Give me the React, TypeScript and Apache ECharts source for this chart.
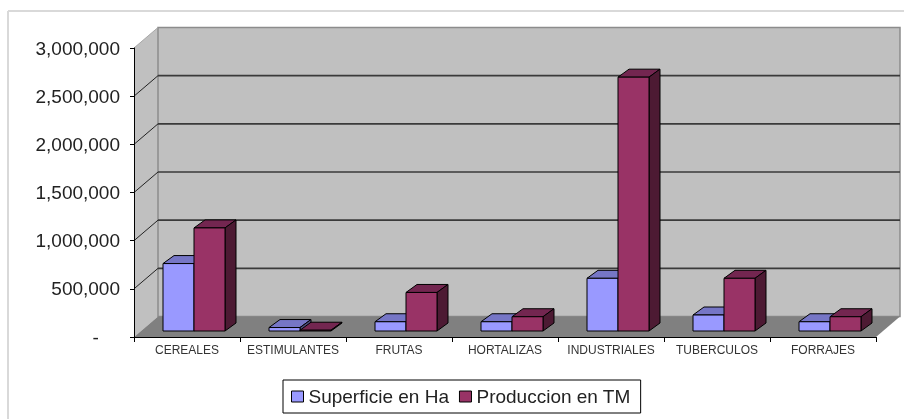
import React, { useEffect, useRef } from "react";
import * as echarts from "echarts";

const categories = ["CEREALES", "ESTIMULANTES", "FRUTAS", "HORTALIZAS", "INDUSTRIALES", "TUBERCULOS", "FORRAJES"];
const superficie = [700000, 36000, 96000, 96000, 547000, 166000, 96000];
const produccion = [1070000, 8000, 400000, 148000, 2635000, 547000, 148000];
const tickValues = [0, 500000, 1000000, 1500000, 2000000, 2500000, 3000000];
const seriesNames = ["Superficie en Ha", "Produccion en TM"];

const FONT = "'Liberation Sans', Arial, sans-serif";
const WALL_DX = 24;
const WALL_DY = -20.5;
const BAR_W = 31;
const BAR_DX = 11;
const BAR_DY = -8;
const SHIFT_X = 7;
const SHIFT_Y = -6;

const palette = [
  { front: "#9999ff", top: "#7676c6", side: "#4d4d80" },
  { front: "#993366", top: "#732650", side: "#4d1a33" },
];

function wallRender(params: any, api: any) {
  const cs = params.coordSys;
  const x0 = cs.x;
  const x1 = cs.x + cs.width;
  const yBottom = api.coord([0, tickValues[0]])[1];
  const yTop = api.coord([0, tickValues[tickValues.length - 1]])[1];
  const children: any[] = [
    {
      type: "polygon",
      shape: { points: [[x0, yTop], [x0 + WALL_DX, yTop + WALL_DY], [x0 + WALL_DX, yBottom + WALL_DY], [x0, yBottom]] },
      style: { fill: "#c0c0c0", stroke: "none" },
    },
    {
      type: "polygon",
      shape: {
        points: [[x0 + WALL_DX, yTop + WALL_DY], [x1 + WALL_DX, yTop + WALL_DY], [x1 + WALL_DX, yBottom + WALL_DY], [x0 + WALL_DX, yBottom + WALL_DY]],
      },
      style: { fill: "#c0c0c0", stroke: "#8c8c8c", lineWidth: 1.5 },
    },
    {
      type: "polygon",
      shape: { points: [[x0, yBottom], [x0 + WALL_DX, yBottom + WALL_DY], [x1 + WALL_DX, yBottom + WALL_DY], [x1, yBottom]] },
      style: { fill: "#808080", stroke: "none" },
    },
    {
      type: "line",
      shape: { x1: x0, y1: yTop, x2: x0 + WALL_DX, y2: yTop + WALL_DY },
      style: { stroke: "#a8a8a8", lineWidth: 1 },
    },
  ];
  tickValues.slice(1, -1).forEach((v) => {
    const y = api.coord([0, v])[1];
    children.push({
      type: "line",
      shape: { x1: x0, y1: y, x2: x0 + WALL_DX, y2: y + WALL_DY },
      style: { stroke: "#222222", lineWidth: 1 },
    });
    children.push({
      type: "line",
      shape: { x1: x0 + WALL_DX, y1: y + WALL_DY, x2: x1 + WALL_DX, y2: y + WALL_DY },
      style: { stroke: "#3a3a3a", lineWidth: 1.6 },
    });
  });
  return { type: "group", children };
}

function barRender(seriesIndex: number) {
  return (_params: any, api: any) => {
    const c = palette[seriesIndex];
    const p = api.coord([api.value(0), api.value(1)]);
    const base = api.coord([api.value(0), 0]);
    const left = p[0] + SHIFT_X - BAR_W + seriesIndex * BAR_W;
    const right = left + BAR_W;
    const top = p[1] + SHIFT_Y;
    const bottom = base[1] + SHIFT_Y;
    const edge = { stroke: "#000000", lineWidth: 1 };
    return {
      type: "group",
      children: [
        {
          type: "polygon",
          shape: { points: [[left, top], [left + BAR_DX, top + BAR_DY], [right + BAR_DX, top + BAR_DY], [right, top]] },
          style: { fill: c.top, ...edge },
        },
        {
          type: "polygon",
          shape: { points: [[right, top], [right + BAR_DX, top + BAR_DY], [right + BAR_DX, bottom + BAR_DY], [right, bottom]] },
          style: { fill: c.side, ...edge },
        },
        {
          type: "rect",
          shape: { x: left, y: top, width: BAR_W, height: bottom - top },
          style: { fill: c.front, ...edge },
        },
      ],
    };
  };
}

const formatTick = (v: number) =>
  v === 0 ? "-\u00A0\u00A0\u00A0\u00A0" : v.toString().replace(/\B(?=(\d{3})+(?!\d))/g, ",");

export default function App() {
  const ref = useRef<HTMLDivElement>(null);
  useEffect(() => {
    const chart = echarts.init(ref.current!, undefined, { renderer: "svg" });
    chart.setOption({
      animation: false,
      backgroundColor: "#ffffff",
      grid: { left: 134, top: 48, width: 742, height: 289, containLabel: false },
      xAxis: {
        type: "category",
        data: categories,
        z: 5,
        axisLine: { lineStyle: { color: "#000000", width: 1 } },
        axisTick: { show: true, alignWithLabel: false, length: 5, lineStyle: { color: "#000000" } },
        axisLabel: { interval: 0, margin: 7, fontFamily: FONT, fontSize: 12, color: "#333333" },
        splitLine: { show: false },
      },
      yAxis: {
        type: "value",
        min: 0,
        max: 3000000,
        interval: 500000,
        z: 5,
        axisLine: { show: true, lineStyle: { color: "#000000", width: 1 } },
        axisTick: { show: true, length: 4, lineStyle: { color: "#000000" } },
        axisLabel: { margin: 14, fontFamily: FONT, fontSize: 19, color: "#222222", formatter: formatTick },
        splitLine: { show: false },
      },
      legend: {
        show: true,
        data: seriesNames.map((name) => ({ name, icon: "rect" })),
        left: 283,
        top: 380,
        orient: "horizontal",
        padding: [7, 10, 7, 8],
        itemWidth: 12,
        itemHeight: 11,
        itemGap: 10,
        borderColor: "#000000",
        borderWidth: 1,
        backgroundColor: "#ffffff",
        textStyle: { fontFamily: FONT, fontSize: 19, color: "#222222" },
        itemStyle: { borderColor: "#000000", borderWidth: 1 },
        selectedMode: false,
      },
      graphic: [
        { type: "line", silent: true, shape: { x1: 8, y1: 11, x2: 904, y2: 11 }, style: { stroke: "#d9d9d9", lineWidth: 2 } },
        { type: "line", silent: true, shape: { x1: 8, y1: 11, x2: 8, y2: 419 }, style: { stroke: "#d9d9d9", lineWidth: 2 } },
      ],
      series: [
        {
          type: "custom",
          name: "wall",
          z: 0,
          silent: true,
          renderItem: wallRender,
          data: [[0, 0]],
          encode: { x: 0, y: 1 },
        },
        {
          type: "custom",
          name: seriesNames[0],
          z: 2,
          silent: true,
          itemStyle: { color: palette[0].front },
          renderItem: barRender(0),
          data: categories.map((_, i) => [i, superficie[i]]),
          encode: { x: 0, y: 1 },
        },
        {
          type: "custom",
          name: seriesNames[1],
          z: 3,
          silent: true,
          itemStyle: { color: palette[1].front },
          renderItem: barRender(1),
          data: categories.map((_, i) => [i, produccion[i]]),
          encode: { x: 0, y: 1 },
        },
      ],
    });
    return () => chart.dispose();
  }, []);
  return (
    <div
      ref={ref}
      style={{ position: "absolute", left: 0, top: 0, width: 904, height: 419, filter: "blur(0.4px)" }}
    />
  );
}
